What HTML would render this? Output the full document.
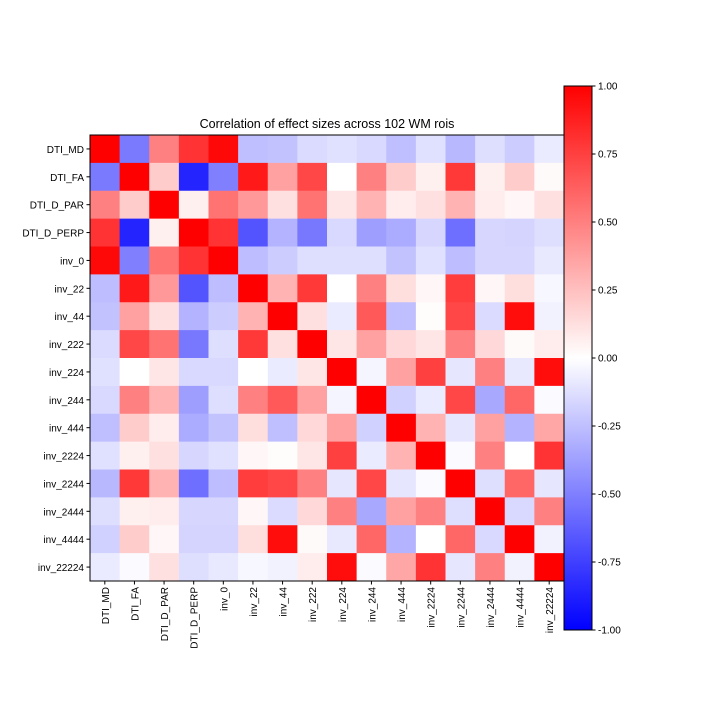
<!DOCTYPE html>
<html><head><meta charset="utf-8"><style>
body{margin:0;background:#fff}
svg{display:block;font-family:"Liberation Sans","DejaVu Sans",sans-serif}
</style></head><body>
<svg id="chart" width="720" height="720"></svg>
<script>
const labels=["DTI_MD","DTI_FA","DTI_D_PAR","DTI_D_PERP","inv_0","inv_22","inv_44","inv_222","inv_224","inv_244","inv_444","inv_2224","inv_2244","inv_2444","inv_4444","inv_22224"];
const r0=[1,-0.52,0.5,0.8,0.97,-0.25,-0.24,-0.14,-0.12,-0.15,-0.25,-0.12,-0.28,-0.13,-0.2,-0.08];
const r1=[-0.52,1,0.2,-0.86,-0.5,0.9,0.37,0.72,0,0.5,0.2,0.06,0.78,0.06,0.2,0.02];
const r2=[0.5,0.2,1,0.06,0.55,0.4,0.12,0.55,0.1,0.3,0.07,0.12,0.3,0.07,0.03,0.12];
const r3=[0.8,-0.86,0.06,1,0.8,-0.67,-0.3,-0.53,-0.15,-0.38,-0.33,-0.16,-0.57,-0.16,-0.17,-0.13];
const r4=[0.97,-0.5,0.55,0.8,1,-0.26,-0.2,-0.13,-0.13,-0.13,-0.24,-0.12,-0.26,-0.16,-0.16,-0.09];
const r5=[-0.26,0.9,0.4,-0.67,-0.26,1,0.3,0.78,0,0.5,0.13,0.03,0.76,0.03,0.13,-0.03];
const r6=[-0.24,0.37,0.12,-0.3,-0.2,0.3,1,0.12,-0.08,0.65,-0.25,0.01,0.72,-0.14,0.95,-0.05];
const r7=[-0.14,0.72,0.55,-0.53,-0.13,0.78,0.12,1,0.1,0.37,0.15,0.1,0.5,0.15,0.02,0.07];
const r8=[-0.12,0,0.1,-0.15,-0.15,0,-0.08,0.1,1,-0.04,0.37,0.75,-0.1,0.5,-0.09,0.95];
const r9=[-0.15,0.5,0.3,-0.38,-0.13,0.5,0.65,0.37,-0.04,1,-0.18,-0.08,0.72,-0.34,0.6,-0.02];
const r10=[-0.25,0.2,0.07,-0.33,-0.24,0.13,-0.25,0.15,0.37,-0.18,1,0.3,-0.1,0.37,-0.3,0.35];
const r11=[-0.12,0.06,0.12,-0.16,-0.12,0.03,0.01,0.1,0.75,-0.08,0.3,1,-0.02,0.5,0,0.8];
const r12=[-0.28,0.78,0.3,-0.57,-0.26,0.76,0.72,0.5,-0.1,0.72,-0.1,-0.02,1,-0.13,0.6,-0.1];
const r13=[-0.13,0.06,0.07,-0.16,-0.16,0.03,-0.14,0.15,0.5,-0.34,0.37,0.5,-0.13,1,-0.15,0.5];
const r14=[-0.18,0.2,0.03,-0.17,-0.17,0.13,0.95,0.02,-0.09,0.6,-0.3,0,0.6,-0.15,1,-0.05];
const r15=[-0.08,-0.02,0.12,-0.13,-0.09,-0.03,-0.05,0.07,0.95,-0.02,0.35,0.8,-0.1,0.5,-0.05,1];
const matrix=[r0,r1,r2,r3,r4,r5,r6,r7,r8,r9,r10,r11,r12,r13,r14,r15];
const cbTicks=[1,0.75,0.5,0.25,0,-0.25,-0.5,-0.75,-1];

const NS="http://www.w3.org/2000/svg";
const svg=document.getElementById('chart');
const L=90,T=135,W=474,H=446,n=labels.length;
const cw=W/n,ch=H/n;
const xPos=i=>L+i*cw, yPos=i=>T+i*ch;
const CBX=564,CBW=28,CBT=86,CBB=630;
const cbY=v=>CBT+(1-v)/2*(CBB-CBT);
function bwr(v){v=Math.max(-1,Math.min(1,v));
 if(v>=0){const g=Math.round(255*(1-v));return `rgb(255,${g},${g})`;}
 const r=Math.round(255*(1+v));return `rgb(${r},${r},255)`;}
function el(t,a,p){const e=document.createElementNS(NS,t);for(const k in a)e.setAttribute(k,a[k]);(p||svg).appendChild(e);return e;}

const title=el('text',{x:L+W/2,y:T-7,'text-anchor':'middle','font-size':12.5});
title.textContent="Correlation of effect sizes across 102 WM rois";



const g=el('g',{});


for(let i=0;i<n;i++)for(let j=0;j<n;j++){
 const c=el('rect',{x:xPos(j),y:yPos(i),width:cw+0.5,height:ch+0.5,fill:bwr(matrix[i][j])},g);
 
 
}
const frame=el('rect',{x:L,y:T,width:W,height:H,fill:'none',stroke:'#000','stroke-width':1});



for(let i=0;i<n;i++){
 const y=yPos(i)+ch/2;
 el('line',{x1:L-3.5,x2:L,y1:y,y2:y,stroke:'#000'});
 const t=el('text',{x:L-6,y:y+4,'text-anchor':'end','font-size':10});
 t.textContent=labels[i];
 
 
 const x=xPos(i)+cw/2;
 el('line',{x1:x,x2:x,y1:T+H,y2:T+H+3.5,stroke:'#000'});
 const tx=el('text',{transform:`translate(${x+4},${T+H+6}) rotate(-90)`,'text-anchor':'end','font-size':10});
 tx.textContent=labels[i];
 
 
}

const defs=el('defs',{});
const grad=el('linearGradient',{id:'cb',x1:0,y1:0,x2:0,y2:1},defs);
el('stop',{offset:'0',  'stop-color':'rgb(255,0,0)'},grad);
el('stop',{offset:'0.5','stop-color':'rgb(255,255,255)'},grad);
el('stop',{offset:'1',  'stop-color':'rgb(0,0,255)'},grad);
const cb=el('rect',{x:CBX,y:CBT,width:CBW,height:CBB-CBT,fill:'url(#cb)',stroke:'#000','stroke-width':1});


cbTicks.forEach(v=>{
 const y=cbY(v);
 el('line',{x1:CBX+CBW,x2:CBX+CBW+3.5,y1:y,y2:y,stroke:'#000'});
 const t=el('text',{x:CBX+CBW+6,y:y+3.5,'font-size':10});
 t.textContent=v.toFixed(2);
 
 
});
</script>
</body></html>
